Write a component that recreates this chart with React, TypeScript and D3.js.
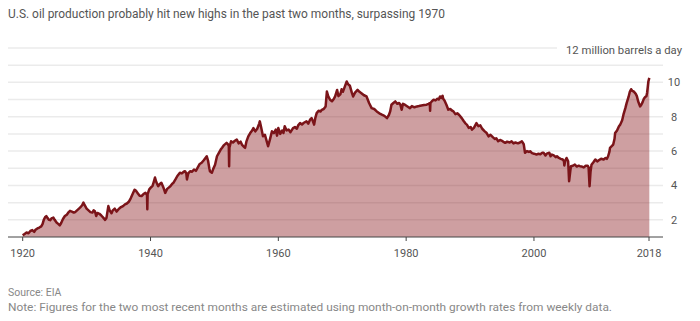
import React from "react";
import * as d3 from "d3";

const title = "U.S. oil production probably hit new highs in the past two months, surpassing 1970";
const unitLabel = "12 million barrels a day";
const sourceText = "Source: EIA";
const noteText = "Note: Figures for the two most recent months are estimated using month-on-month growth rates from weekly data.";

const xTickYears = [1920, 1940, 1960, 1980, 2000, 2018];
const yTickValues = [2, 4, 6, 8, 10];
const gridValues = [2, 3, 4, 5, 6, 7, 8, 9, 10, 11];

const years = [
  1920.0, 1920.3, 1920.6, 1920.9, 1921.2, 1921.5, 1921.8, 1922.0, 1922.3, 1922.6, 1922.9,
  1923.1, 1923.3, 1923.5, 1923.7, 1923.9, 1924.1, 1924.3, 1924.5, 1924.8, 1925.0, 1925.3,
  1925.6, 1925.8, 1926.0, 1926.3, 1926.6, 1926.9, 1927.2, 1927.4, 1927.7, 1928.0, 1928.2,
  1928.5, 1928.8, 1929.0, 1929.3, 1929.5, 1929.7, 1930.0, 1930.3, 1930.6, 1930.9, 1931.1,
  1931.3, 1931.5, 1931.7, 1932.0, 1932.3, 1932.6, 1932.9, 1933.1, 1933.4, 1933.6, 1933.9,
  1934.1, 1934.4, 1934.7, 1935.0, 1935.3, 1935.7, 1936.0, 1936.3, 1936.6, 1936.9, 1937.2,
  1937.5, 1937.7, 1938.0, 1938.3, 1938.6, 1938.9, 1939.2, 1939.45, 1939.5, 1939.55, 1939.8,
  1940.1, 1940.3, 1940.5, 1940.7, 1940.9, 1941.2, 1941.5, 1941.7, 1942.0, 1942.3, 1942.6,
  1942.8, 1943.1, 1943.4, 1943.6, 1943.9, 1944.2, 1944.6, 1944.9, 1945.2, 1945.4, 1945.6,
  1945.7, 1945.9, 1946.2, 1946.5, 1946.8, 1947.1, 1947.4, 1947.7, 1948.0, 1948.3, 1948.6,
  1948.8, 1949.0, 1949.2, 1949.3, 1949.6, 1949.8, 1950.1, 1950.4, 1950.7, 1951.0, 1951.2,
  1951.5, 1951.9, 1952.1, 1952.25, 1952.3, 1952.35, 1952.6, 1952.9, 1953.2, 1953.5, 1953.8,
  1954.1, 1954.3, 1954.6, 1954.8, 1955.0, 1955.3, 1955.6, 1955.9, 1956.1, 1956.4, 1956.7,
  1957.0, 1957.1, 1957.3, 1957.6, 1957.9, 1958.2, 1958.4, 1958.7, 1959.0, 1959.3, 1959.6,
  1959.8, 1960.0, 1960.3, 1960.6, 1960.8, 1961.0, 1961.3, 1961.6, 1961.9, 1962.3, 1962.6,
  1962.9, 1963.1, 1963.4, 1963.7, 1964.0, 1964.4, 1964.7, 1965.0, 1965.2, 1965.4, 1965.6,
  1965.8, 1966.0, 1966.3, 1966.6, 1966.8, 1967.1, 1967.4, 1967.6, 1967.8, 1968.1, 1968.4,
  1968.7, 1968.9, 1969.2, 1969.4, 1969.7, 1969.9, 1970.1, 1970.4, 1970.7, 1970.9, 1971.2,
  1971.5, 1971.7, 1972.0, 1972.4, 1972.7, 1973.0, 1973.4, 1973.8, 1974.2, 1974.6, 1975.0,
  1975.4, 1975.8, 1976.2, 1976.6, 1977.0, 1977.3, 1977.5, 1977.7, 1978.0, 1978.3, 1978.6,
  1978.9, 1979.1, 1979.3, 1979.5, 1979.8, 1980.2, 1980.6, 1980.9, 1981.3, 1981.7, 1982.0,
  1982.4, 1982.8, 1983.2, 1983.5, 1983.7, 1983.75, 1983.8, 1984.0, 1984.3, 1984.6, 1984.9,
  1985.1, 1985.3, 1985.5, 1985.7, 1985.8, 1986.0, 1986.3, 1986.6, 1986.9, 1987.2, 1987.4,
  1987.7, 1988.0, 1988.3, 1988.7, 1989.0, 1989.3, 1989.5, 1989.8, 1990.1, 1990.3, 1990.6,
  1991.0, 1991.3, 1991.6, 1991.9, 1992.3, 1992.6, 1992.9, 1993.2, 1993.6, 1993.9, 1994.1,
  1994.4, 1994.7, 1995.0, 1995.3, 1995.5, 1995.8, 1996.2, 1996.5, 1996.8, 1997.1, 1997.5,
  1997.8, 1998.1, 1998.4, 1998.6, 1998.9, 1999.2, 1999.4, 1999.7, 2000.0, 2000.4, 2000.7,
  2001.0, 2001.3, 2001.5, 2001.8, 2002.0, 2002.4, 2002.6, 2002.8, 2003.1, 2003.4, 2003.6,
  2003.9, 2004.2, 2004.5, 2004.7, 2004.75, 2004.9, 2005.1, 2005.35, 2005.5, 2005.7, 2005.8,
  2006.1, 2006.4, 2006.7, 2007.0, 2007.2, 2007.5, 2007.8, 2008.1, 2008.4, 2008.55, 2008.7,
  2008.85, 2009.0, 2009.3, 2009.6, 2009.9, 2010.2, 2010.5, 2010.9, 2011.2, 2011.4, 2011.6,
  2011.8, 2011.9, 2012.2, 2012.4, 2012.6, 2012.7, 2013.0, 2013.3, 2013.5, 2013.8, 2014.0,
  2014.3, 2014.5, 2014.8, 2015.0, 2015.2, 2015.4, 2015.6, 2015.9, 2016.1, 2016.3, 2016.6,
  2016.8, 2017.0, 2017.2, 2017.4, 2017.6, 2017.7, 2017.8, 2017.9, 2018.05,
];

const production = [
  1.10, 1.18, 1.26, 1.22, 1.35, 1.40, 1.30, 1.42, 1.50, 1.55, 1.62,
  1.75, 2.00, 2.15, 2.22, 2.10, 2.00, 1.98, 2.08, 2.13, 2.00, 1.84,
  1.75, 1.68, 1.80, 2.05, 2.22, 2.30, 2.45, 2.52, 2.48, 2.42, 2.45,
  2.55, 2.65, 2.72, 2.85, 3.00, 2.85, 2.65, 2.55, 2.45, 2.42, 2.55,
  2.50, 2.22, 2.40, 2.35, 2.25, 2.13, 2.00, 2.10, 2.80, 2.55, 2.38,
  2.55, 2.65, 2.48, 2.62, 2.72, 2.80, 2.90, 2.95, 3.05, 3.25, 3.50,
  3.75, 3.70, 3.55, 3.40, 3.38, 3.50, 3.57, 3.45, 2.62, 3.50, 3.77,
  3.90, 3.96, 4.20, 4.46, 4.20, 3.96, 4.10, 4.16, 3.90, 3.57, 3.80,
  3.86, 3.95, 4.10, 4.16, 4.35, 4.55, 4.74, 4.70, 4.80, 4.83, 4.70,
  4.35, 4.70, 4.83, 4.80, 4.93, 4.85, 5.05, 5.25, 5.32, 5.45, 5.60,
  5.70, 5.45, 5.00, 4.83, 4.74, 4.95, 5.20, 5.70, 5.90, 6.10, 6.19,
  6.35, 6.48, 6.40, 6.30, 5.12, 6.20, 6.57, 6.50, 6.60, 6.67, 6.45,
  6.55, 6.38, 6.25, 6.19, 6.55, 6.86, 7.05, 7.20, 7.34, 7.15, 7.30,
  7.60, 7.73, 7.40, 6.86, 6.95, 6.55, 6.28, 6.70, 7.15, 7.05, 7.25,
  6.90, 7.34, 7.00, 7.20, 7.05, 7.44, 7.20, 7.25, 7.10, 7.34, 7.40,
  7.30, 7.50, 7.63, 7.55, 7.65, 7.73, 7.60, 7.85, 7.92, 7.75, 7.54,
  7.95, 8.21, 8.35, 8.30, 8.40, 8.45, 8.60, 9.47, 9.20, 8.99, 8.90,
  9.05, 9.20, 9.56, 9.20, 9.30, 9.60, 9.45, 9.75, 10.05, 9.90, 9.80,
  9.40, 9.18, 9.40, 9.56, 9.45, 9.37, 9.25, 9.18, 8.80, 8.50, 8.45,
  8.31, 8.20, 8.12, 8.05, 7.92, 8.10, 8.31, 8.70, 8.80, 8.89, 8.75,
  8.80, 8.70, 8.41, 8.75, 8.70, 8.60, 8.50, 8.62, 8.55, 8.60, 8.62,
  8.65, 8.68, 8.70, 8.75, 8.79, 8.35, 8.80, 8.89, 8.99, 8.95, 9.05,
  9.00, 9.18, 9.10, 9.22, 9.05, 8.95, 8.70, 8.41, 8.45, 8.35, 8.31,
  8.15, 8.20, 8.10, 7.92, 7.75, 7.60, 7.54, 7.35, 7.40, 7.25, 7.35,
  7.63, 7.45, 7.50, 7.30, 7.15, 7.05, 6.86, 6.95, 6.80, 6.70, 6.75,
  6.57, 6.65, 6.60, 6.52, 6.48, 6.55, 6.50, 6.57, 6.45, 6.50, 6.45,
  6.50, 6.57, 6.40, 5.90, 6.00, 5.95, 5.99, 5.88, 5.85, 5.80, 5.85,
  5.82, 5.90, 5.90, 5.75, 5.85, 5.90, 5.70, 5.80, 5.75, 5.65, 5.70,
  5.60, 5.55, 5.51, 5.40, 5.16, 5.45, 5.60, 5.40, 4.25, 4.90, 5.12,
  5.15, 5.22, 5.10, 5.15, 5.12, 5.10, 5.05, 5.15, 5.15, 5.05, 3.96,
  4.80, 5.20, 5.35, 5.51, 5.40, 5.48, 5.55, 5.51, 5.60, 5.55, 5.70,
  5.95, 6.19, 6.30, 6.38, 6.70, 7.05, 7.20, 7.45, 7.54, 7.80, 8.12,
  8.50, 8.79, 9.15, 9.45, 9.60, 9.50, 9.47, 9.35, 9.20, 8.90, 8.60,
  8.70, 8.85, 9.05, 9.15, 9.20, 9.40, 9.70, 10.05, 10.26,
];

const W = 700;
const H = 321;
const FONT = "Roboto, 'Liberation Sans', Arial, sans-serif";

export default function App() {
  const x = d3.scaleLinear().domain([1920, 2018]).range([22.7, 649]);
  const y = d3.scaleLinear().domain([1, 12]).range([237, 48]);
  const data = years.map((yr, i) => ({ yr, v: production[i] }));

  const area = d3
    .area<{ yr: number; v: number }>()
    .x((d) => x(d.yr))
    .y0(y(1))
    .y1((d) => y(d.v));
  const line = d3
    .line<{ yr: number; v: number }>()
    .x((d) => x(d.yr))
    .y((d) => y(d.v));

  const plotLeft = 8;
  const plotRight = 663;
  const baseY = y(1);

  return (
    <svg
      width={W}
      height={H}
      viewBox={`0 0 ${W} ${H}`}
      style={{ position: "absolute", left: 0, top: 0, background: "#fff" }}
      fontFamily={FONT}
    >
      <text x={8} y={17.5} fontSize={12.5} fill="#555" textLength={437} lengthAdjust="spacingAndGlyphs">
        {title}
      </text>

      {gridValues.map((g) => (
        <line key={g} x1={plotLeft} x2={plotRight} y1={y(g)} y2={y(g)} stroke="#ebebeb" strokeWidth={1.5} />
      ))}
      <line x1={plotLeft} x2={557} y1={y(12)} y2={y(12)} stroke="#ebebeb" strokeWidth={1.5} />
      <text x={682} y={53.5} fontSize={11} fill="#555" textAnchor="end" textLength={116} lengthAdjust="spacingAndGlyphs">
        {unitLabel}
      </text>

      <path d={area(data) || ""} fill="#8b1a1f" fillOpacity={0.42} />
      <path d={line(data) || ""} fill="none" stroke="#7b1419" strokeWidth={2.5} strokeLinejoin="round" />

      <line x1={plotLeft} x2={plotRight} y1={baseY} y2={baseY} stroke="#444" strokeWidth={1} />
      {xTickYears.map((t) => (
        <g key={t}>
          <line x1={x(t)} x2={x(t)} y1={baseY} y2={baseY + 4} stroke="#444" strokeWidth={1} />
          <text x={x(t)} y={257} fontSize={11} fill="#555" textAnchor="middle">
            {t}
          </text>
        </g>
      ))}

      {yTickValues.map((t) => (
        <text key={t} x={674} y={y(t) + 4} fontSize={11} fill="#555" textAnchor="middle">
          {t}
        </text>
      ))}

      <text x={8} y={296} fontSize={10.5} fill="#888">
        {sourceText}
      </text>
      <text x={8} y={311} fontSize={10.5} fill="#888" textLength={604} lengthAdjust="spacingAndGlyphs">
        {noteText}
      </text>
    </svg>
  );
}
